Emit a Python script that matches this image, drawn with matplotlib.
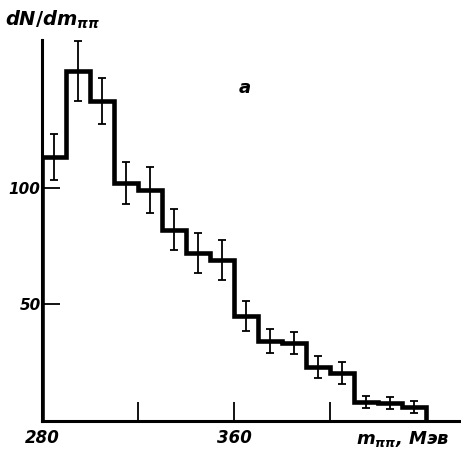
import numpy as np
import matplotlib
matplotlib.use('Agg')
import matplotlib.pyplot as plt

plt.rcParams['mathtext.fontset'] = 'custom'
plt.rcParams['mathtext.rm'] = 'DejaVu Sans:bold'
plt.rcParams['mathtext.it'] = 'DejaVu Sans:italic:bold'

# bin edges in MeV, counts and errors
edges = [280, 290, 300, 310, 320, 330, 340, 350, 360, 370, 380, 390, 400, 410, 420, 430, 440]
counts = [113.3, 150.2, 137.3, 102.1, 99.1, 82.0, 72.1, 69.1, 45.1, 34.4, 33.5, 23.2, 20.6, 8.2, 7.7, 6.0]
errors = [10.0, 12.7, 9.7, 9.2, 9.9, 8.8, 8.4, 8.4, 6.4, 5.2, 4.7, 4.9, 4.7, 2.6, 2.6, 2.4]
xticks_major = [280, 360]
xticks_minor = [320, 400]
yticks = [50, 100]

fig = plt.figure(figsize=(4.61, 4.51), dpi=100)
ax = fig.add_axes([0.091, 0.0665, 0.907, 0.845])

edges = np.array(edges)
centers = (edges[:-1] + edges[1:]) / 2
ax.stairs(counts, edges, color='black', lw=3.3, baseline=0, fill=False)
ax.errorbar(centers, counts, yerr=errors, fmt='none', ecolor='black',
            elinewidth=1.3, capsize=3, capthick=1.3)

ax.set_xlim(280, 454)
ax.set_ylim(0, 163.5)

for s in ['top', 'right']:
    ax.spines[s].set_visible(False)
for s in ['left', 'bottom']:
    ax.spines[s].set_linewidth(2.2)

ax.set_xticks(xticks_major + xticks_minor)
ax.set_xticklabels(['280', '360', '', ''], fontsize=12, style='italic', fontweight='bold')
ax.set_yticks(yticks)
ax.set_yticklabels(['50', '100'], fontsize=11, style='italic', fontweight='bold')
ax.tick_params(axis='x', direction='in', length=14, width=1.3, pad=6)
ax.tick_params(axis='y', direction='in', length=13, width=1.3, pad=1)

fig.text(0.01, 0.955, r'$dN/dm_{\pi\pi}$', fontsize=14, ha='left', va='center')
fig.text(0.53, 0.805, 'а', fontsize=13, style='italic', fontweight='bold',
         ha='center', va='center')
fig.text(0.975, 0.027, r'$m_{\pi\pi}$, Мэв', fontsize=13, style='italic',
         fontweight='bold', ha='right', va='center')

fig.savefig('out.png', dpi=100)
